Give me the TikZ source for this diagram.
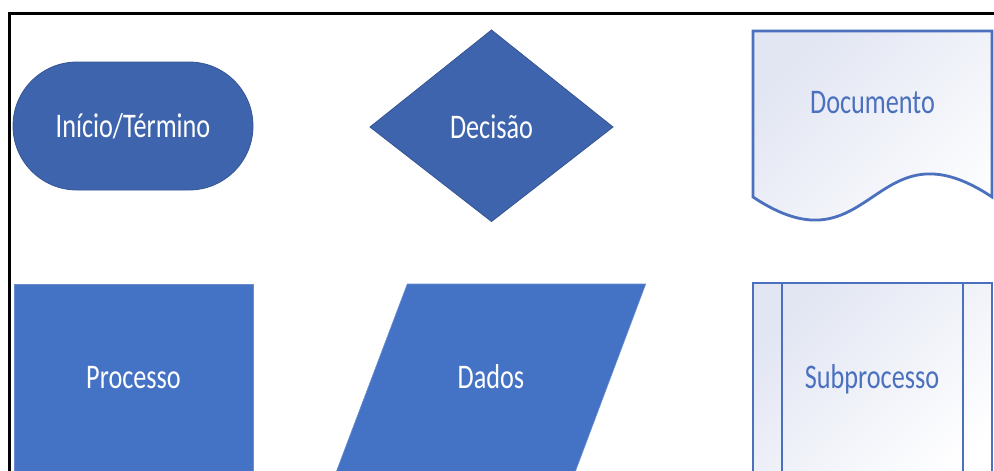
\documentclass[tikz,border=0pt]{standalone}
\usepackage{fontspec}
\newfontfamily\shapefont[FakeStretch=0.76]{Carlito}
\definecolor{darkblue}{HTML}{3E64AD}
\definecolor{midblue}{HTML}{4472C4}
\definecolor{lineblue}{HTML}{4A70BE}
\definecolor{paleblue}{HTML}{E2E6F3}
\tikzset{
  darkshape/.style={fill=darkblue, draw=darkblue!85!black, line width=0.8pt},
  midshape/.style={fill=midblue, draw=midblue!80!white, line width=0.6pt},
  lightshape/.style={shade, top color=paleblue, bottom color=white, shading angle=45, draw=lineblue, line width=2.8pt, line join=miter},
  whitelabel/.style={anchor=base, text=white, font=\shapefont\fontsize{34.5}{40}\selectfont, inner sep=0pt},
  bluelabel/.style={anchor=base, text=lineblue, font=\shapefont\fontsize{34.5}{40}\selectfont, inner sep=0pt},
  frameline/.style={draw=black, line width=3pt}
}
\begin{document}
\begin{tikzpicture}[x=1pt, y=-1pt]
\clip (0,0) rectangle (994,471);
\fill[white] (0,0) rectangle (994,471);
% frame
\draw[frameline] (9.5,480) -- (9.5,13.5) -- (1000,13.5);
% terminal
\draw[darkshape, rounded corners=64pt] (13,62) rectangle (253,190);
\node[whitelabel] (term) at (133,137.5) {Início/Término};
% decision
\draw[darkshape] (491.5,30) -- (613,127) -- (491.5,221.5) -- (370,127) -- cycle;
\node[whitelabel] (dec) at (491.5,138.5) {Decisão};
% document
\draw[lightshape] (753,197) -- (753,31) -- (992,31) -- (992,197)
  .. controls (872,117) and (873,277) .. (753,197) -- cycle;
\node[bluelabel] (doc) at (872.5,113) {Documento};
% process
\draw[midshape] (14,284) rectangle (253,500);
\node[whitelabel] (proc) at (133.5,388) {Processo};
% data
\draw[midshape] (407.3,284) -- (645.7,284) -- (566.5,495) -- (327.5,495) -- cycle;
\node[whitelabel] (data) at (491,388) {Dados};
% subprocess
\draw[lightshape] (753,283) rectangle (992,500);
\draw[draw=lineblue, line width=2.8pt] (782,283) -- (782,500);
\draw[draw=lineblue, line width=2.8pt] (963,283) -- (963,500);
\node[bluelabel] (sub) at (872,388) {Subprocesso};
\end{tikzpicture}
\end{document}
